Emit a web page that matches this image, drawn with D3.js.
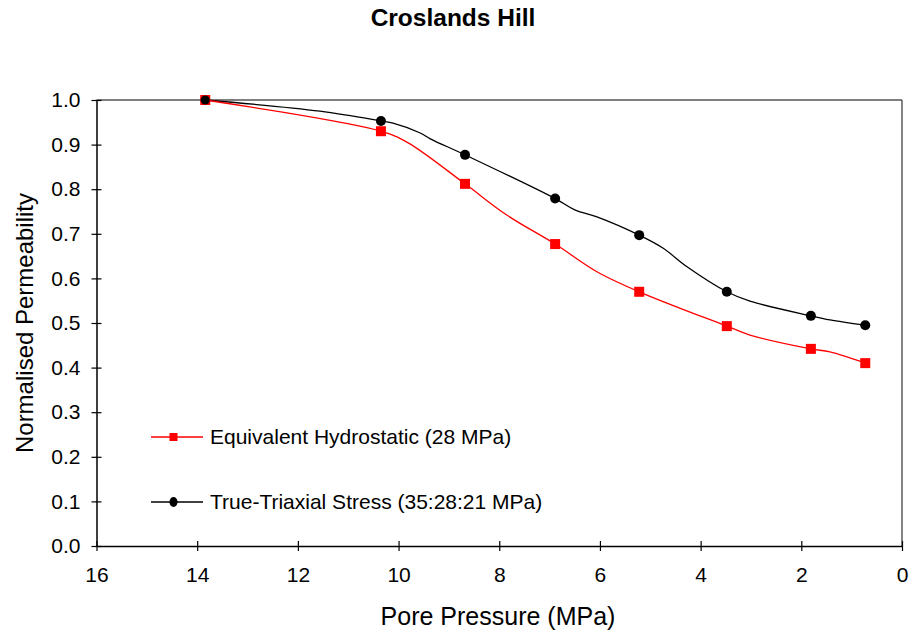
<!DOCTYPE html>
<html><head><meta charset="utf-8">
<script src="https://cdn.jsdelivr.net/npm/d3@7/dist/d3.min.js"></script>
<style>body{margin:0;background:#fff}svg{display:block}text{font-family:"Liberation Sans",Arial,sans-serif}</style>
</head><body>
<svg id="c" width="910" height="634"></svg>
<script>
const title = "Croslands Hill";
const xLabel = "Pore Pressure (MPa)";
const yLabel = "Normalised Permeability";
const xTicks = [16,14,12,10,8,6,4,2,0];
const yTicks = [0,0.1,0.2,0.3,0.4,0.5,0.6,0.7,0.8,0.9,1.0];

const seriesNames = ["Equivalent Hydrostatic (28 MPa)", "True-Triaxial Stress (35:28:21 MPa)"];
// marker points
const hydroP = [13.84,10.35,8.68,6.89,5.22,3.48,1.81,0.73];
const hydroK = [1.0,0.930,0.812,0.677,0.570,0.493,0.442,0.410];
const triP   = [13.84,10.35,8.68,6.89,5.22,3.48,1.81,0.73];
const triK   = [1.0,0.953,0.877,0.779,0.697,0.570,0.516,0.495];
// line traces
const hydroLineP = [13.84,10.35,9.81,8.68,7.85,6.89,6.06,5.22,3.48,3.02,1.81,1.43,0.73];
const hydroLineK = [1.0,0.930,0.904,0.812,0.742,0.677,0.615,0.570,0.493,0.473,0.442,0.435,0.410];
const triLineP = [13.84,11.56,10.35,10.11,9.57,9.37,8.68,6.89,6.49,6.06,5.22,4.75,4.27,3.48,3.02,1.81,1.43,0.73];
const triLineK = [1.0,0.975,0.953,0.948,0.926,0.913,0.877,0.779,0.753,0.738,0.697,0.668,0.626,0.570,0.549,0.516,0.507,0.495];

const svg = d3.select("#c");
const L=96.5, R=902, T=100, B=546;
const x = d3.scaleLinear().domain([16,0]).range([L,R]);
const y = d3.scaleLinear().domain([0,1]).range([B,T]);
const FF = "Liberation Sans, Arial, sans-serif";

svg.append("text").attr("x",453).attr("y",26).attr("text-anchor","middle")
  .attr("font-size",24.5).attr("font-weight","bold").text(title);

// frame top/right
svg.append("line").attr("x1",L).attr("x2",R).attr("y1",T).attr("y2",T).attr("stroke","#000").attr("stroke-width",1.2);
svg.append("line").attr("x1",R).attr("x2",R).attr("y1",T).attr("y2",B).attr("stroke","#333").attr("stroke-width",1.2);

const xa = svg.append("g").attr("transform",`translate(0,${B})`)
  .call(d3.axisBottom(x).tickValues(xTicks).tickFormat(d3.format("d")).tickSize(5).tickSizeOuter(0));
xa.selectAll(".tick line").attr("y1",-5).attr("y2",5);
xa.selectAll("text").attr("font-size",21).attr("dy","0").attr("y",36).attr("font-family",FF);
const ya = svg.append("g").attr("transform",`translate(${L},0)`)
  .call(d3.axisLeft(y).tickValues(yTicks).tickFormat(d3.format(".1f")).tickSize(5).tickSizeOuter(0));
ya.selectAll(".tick line").attr("x1",-5).attr("x2",5);
ya.selectAll("text").attr("font-size",21).attr("x",-16).attr("font-family",FF);
svg.selectAll(".domain").attr("stroke","#000").attr("stroke-width",1.5);
svg.selectAll(".tick line").attr("stroke","#000").attr("stroke-width",1.2);

svg.append("text").attr("x",498).attr("y",625).attr("text-anchor","middle").attr("font-size",25).text(xLabel);
svg.append("text").attr("transform","translate(33,323) rotate(-90)").attr("text-anchor","middle").attr("font-size",24).text(yLabel);

const line = d3.line().x(d=>x(d[0])).y(d=>y(d[1])).curve(d3.curveCatmullRom.alpha(0.5));
const z = (a,b)=>a.map((v,i)=>[v,b[i]]);

svg.append("path").datum(z(triLineP,triLineK)).attr("d",line).attr("fill","none").attr("stroke","#000").attr("stroke-width",1.3);
svg.append("path").datum(z(hydroLineP,hydroLineK)).attr("d",line).attr("fill","none").attr("stroke","#ff0000").attr("stroke-width",1.3);

svg.append("g").selectAll("circle").data(z(triP,triK)).join("circle")
  .attr("cx",d=>x(d[0])).attr("cy",d=>y(d[1])).attr("r",5).attr("fill","#000");
svg.append("g").selectAll("rect").data(z(hydroP,hydroK)).join("rect")
  .attr("x",d=>x(d[0])-5).attr("y",d=>y(d[1])-5).attr("width",10).attr("height",10).attr("fill","#ff0000");
svg.append("circle").attr("cx",x(triP[0])).attr("cy",y(triK[0])).attr("r",4.5).attr("fill","#000");

// legend
const lg = svg.append("g");
const ly = [437, 502];
lg.append("line").attr("x1",151).attr("x2",203).attr("y1",ly[0]).attr("y2",ly[0]).attr("stroke","#ff0000").attr("stroke-width",1.3);
lg.append("rect").attr("x",169.5).attr("y",ly[0]-4).attr("width",8).attr("height",8).attr("fill","#ff0000");
lg.append("text").attr("x",210).attr("y",ly[0]+7).attr("font-size",21).text(seriesNames[0]);
lg.append("line").attr("x1",151).attr("x2",203).attr("y1",ly[1]).attr("y2",ly[1]).attr("stroke","#000").attr("stroke-width",1.3);
lg.append("ellipse").attr("cx",173.5).attr("cy",ly[1]).attr("rx",4).attr("ry",5).attr("fill","#000");
lg.append("text").attr("x",210).attr("y",ly[1]+7).attr("font-size",21).text(seriesNames[1]);
</script>
</body></html>
